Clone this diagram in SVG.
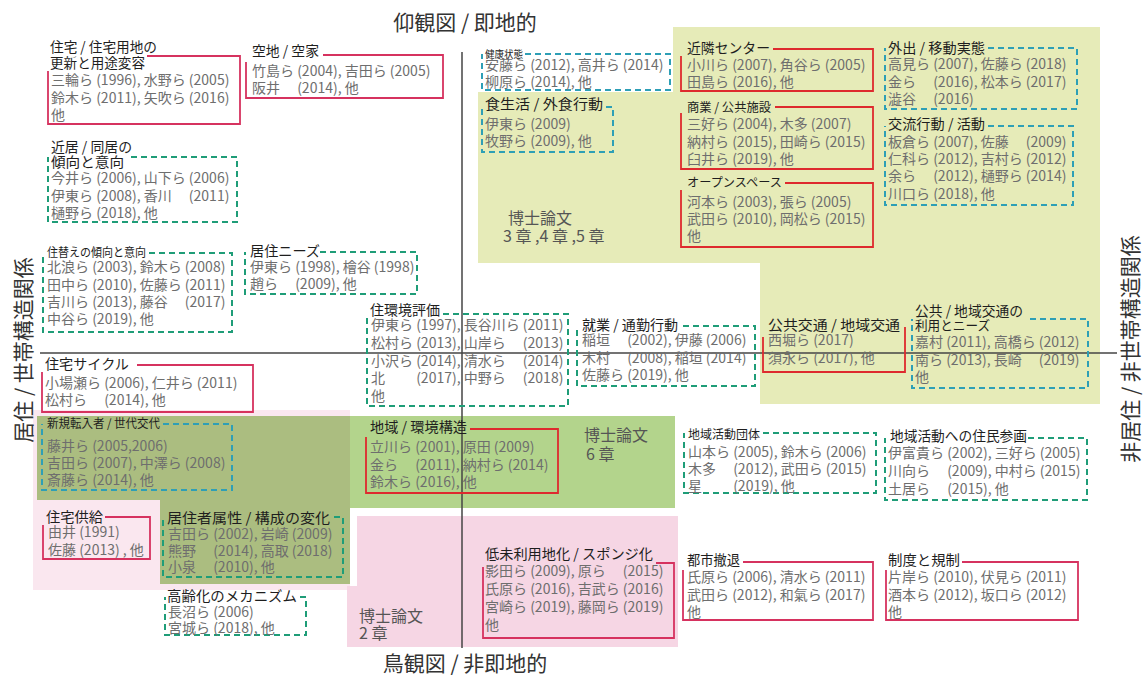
<svg xmlns="http://www.w3.org/2000/svg" width="1144" height="675" viewBox="0 0 1144 675">
<style>
text{font-family:"Noto Sans CJK JP","Noto Sans CJK SC",sans-serif}
.t{font-size:14px;fill:#1e1e1e}
.c{font-size:14px;fill:#6e6e6e}
.h{font-size:16px;fill:#555}
.ax{font-size:21px;fill:#333}
.r1{fill:none;stroke:#d6325f;stroke-width:1.8}
.r2{fill:none;stroke:#de2a2e;stroke-width:1.8}
.dg{fill:none;stroke:#1f9d78;stroke-width:2;stroke-dasharray:6 4}
.db{fill:none;stroke:#2e9fb6;stroke-width:2;stroke-dasharray:6 4}
</style>
<rect width="1144" height="675" fill="#ffffff"/>
<g id="backgrounds">
<path d="M478,92 H673 V27 H1100 V404 H760 V263 H478 Z" fill="#e6ebb8"/>
<rect x="33" y="410" width="317" height="180" fill="#fae7ef"/>
<path d="M37,416 H350 V584 H160 V500 H37 Z" fill="#abbd80"/>
<rect x="350" y="416" width="325" height="92" fill="#b3d48c"/>
<path d="M357,516 H678 V647 H347 V586 H357 Z" fill="#f6d6e4"/>
</g>
<g id="axes">
<line x1="462" y1="52" x2="462" y2="648" stroke="#444" stroke-width="1.5"/>
<line x1="40" y1="353" x2="1117" y2="353" stroke="#444" stroke-width="1.5"/>
<text class="ax" x="465" y="30" text-anchor="middle">仰観図 / 即地的</text>
<text class="ax" x="465" y="671" text-anchor="middle">鳥観図 / 非即地的</text>
<text class="ax" transform="translate(31,350) rotate(-90)" text-anchor="middle">居住 / 世帯構造関係</text>
<text class="ax" transform="translate(1138,349) rotate(-90)" text-anchor="middle">非居住 / 非世帯構造関係</text>
</g>
<g id="labels">
<text class="h" x="508" y="224">博士論文</text>
<text class="h" x="503" y="242">3 章 ,4 章 ,5 章</text>
<text class="h" x="584" y="441">博士論文</text>
<text class="h" x="586" y="460">6 章</text>
<text class="h" x="359" y="622">博士論文</text>
<text class="h" x="359" y="639">2 章</text>
</g>
<g id="connectors"></g>
<g id="nA">
<path class="r1" d="M147,56 H240 V124 H48 V71"/>
<text class="t" x="50" y="52" textLength="107" lengthAdjust="spacingAndGlyphs">住宅 / 住宅用地の</text>
<text class="t" x="50" y="68" style="font-size:13.6px" textLength="95" lengthAdjust="spacingAndGlyphs">更新と用途変容</text>
<text class="c" x="51" y="85">三輪ら (1996), 水野ら (2005)</text>
<text class="c" x="51" y="103">鈴木ら (2011), 矢吹ら (2016)</text>
<text class="c" x="51" y="120">他</text>
</g>
<g id="nB">
<path class="r1" d="M323,55 H443 V98 H246 V62"/>
<text class="t" x="252" y="56" textLength="67" lengthAdjust="spacingAndGlyphs">空地 / 空家</text>
<text class="c" x="252" y="76">竹島ら (2004), 吉田ら (2005)</text>
<text class="c" x="252" y="93">阪井　 (2014), 他</text>
</g>
<g id="nC">
<path class="dg" d="M131,157 H237 V222 H48 V157"/>
<text class="t" x="51" y="152" textLength="81" lengthAdjust="spacingAndGlyphs">近居 / 同居の</text>
<text class="t" x="51" y="167" textLength="73" lengthAdjust="spacingAndGlyphs">傾向と意向</text>
<text class="c" x="51" y="183">今井ら (2006), 山下ら (2006)</text>
<text class="c" x="51" y="201">伊東ら (2008), 香川　 (2011)</text>
<text class="c" x="51" y="218">樋野ら (2018), 他</text>
</g>
<g id="nD">
<path class="dg" d="M149,253 H232 V332 H43 V253"/>
<text class="t" x="47" y="257" style="font-size:12px" textLength="99" lengthAdjust="spacingAndGlyphs">住替えの傾向と意向</text>
<text class="c" x="47" y="272">北浪ら (2003), 鈴木ら (2008)</text>
<text class="c" x="47" y="290">田中ら (2010), 佐藤ら (2011)</text>
<text class="c" x="47" y="307">吉川ら (2013), 藤谷　 (2017)</text>
<text class="c" x="47" y="324">中谷ら (2019), 他</text>
</g>
<g id="nE">
<path class="dg" d="M320,252 H417 V294 H245 V252"/>
<text class="t" x="250" y="256" textLength="70" lengthAdjust="spacingAndGlyphs">居住ニーズ</text>
<text class="c" x="250" y="272">伊東ら (1998), 檜谷 (1998)</text>
<text class="c" x="250" y="289">趙ら　 (2009), 他</text>
</g>
<g id="nF">
<path class="r1" d="M137,365 H253 V412 H42 V372"/>
<text class="t" x="45" y="369" textLength="84" lengthAdjust="spacingAndGlyphs">住宅サイクル</text>
<text class="c" x="45" y="388">小場瀬ら (2006), 仁井ら (2011)</text>
<text class="c" x="45" y="405">松村ら　 (2014), 他</text>
</g>
<g id="nG">
<path class="db" d="M163,424 H232 V490 H42 V424"/>
<text class="t" x="47" y="428" style="font-size:12px" textLength="113" lengthAdjust="spacingAndGlyphs">新規転入者 / 世代交代</text>
<text class="c" x="47" y="451">藤井ら (2005,2006)</text>
<text class="c" x="47" y="468">吉田ら (2007), 中澤ら (2008)</text>
<text class="c" x="47" y="485">斎藤ら (2014), 他</text>
</g>
<g id="nH">
<path class="r1" d="M105,517 H150 V559 H43 V525"/>
<text class="t" x="46" y="522" textLength="57" lengthAdjust="spacingAndGlyphs">住宅供給</text>
<text class="c" x="48" y="537">由井 (1991)</text>
<text class="c" x="48" y="555">佐藤 (2013) , 他</text>
</g>
<g id="nI">
<path class="dg" d="M334,517 H343 V577 H163 V517"/>
<text class="t" x="167" y="523" textLength="163" lengthAdjust="spacingAndGlyphs">居住者属性 / 構成の変化</text>
<text class="c" x="168" y="539">吉田ら (2002), 岩崎 (2009)</text>
<text class="c" x="168" y="556">熊野　 (2014), 高取 (2018)</text>
<text class="c" x="168" y="572">小泉　 (2010), 他</text>
</g>
<g id="nJ">
<path class="dg" d="M300,597 H306 V635 H165 V597"/>
<text class="t" x="167" y="601" textLength="130" lengthAdjust="spacingAndGlyphs">高齢化のメカニズム</text>
<text class="c" x="168" y="617">長沼ら (2006)</text>
<text class="c" x="168" y="633">宮城ら (2018), 他</text>
</g>
<g id="nK">
<path class="db" d="M525,54 H670 V90 H482 V54"/>
<text class="t" x="485" y="58" style="font-size:10.5px" textLength="38" lengthAdjust="spacingAndGlyphs">健康状態</text>
<text class="c" x="485" y="70">安藤ら (2012), 高井ら (2014)</text>
<text class="c" x="485" y="87">柳原ら (2014), 他</text>
</g>
<g id="nL">
<path class="db" d="M606,107 H613 V152 H482 V107"/>
<text class="t" x="485" y="109" textLength="118" lengthAdjust="spacingAndGlyphs">食生活 / 外食行動</text>
<text class="c" x="485" y="129">伊東ら (2009)</text>
<text class="c" x="485" y="146">牧野ら (2009), 他</text>
</g>
<g id="nM">
<path class="r2" d="M773,49 H873 V91 H681 V56"/>
<text class="t" x="687" y="53" textLength="83" lengthAdjust="spacingAndGlyphs">近隣センター</text>
<text class="c" x="687" y="70">小川ら (2007), 角谷ら (2005)</text>
<text class="c" x="687" y="87">田島ら (2016), 他</text>
</g>
<g id="nN">
<path class="r2" d="M775,107 H873 V169 H681 V113"/>
<text class="t" x="687" y="112" style="font-size:12.5px" textLength="84" lengthAdjust="spacingAndGlyphs">商業 / 公共施設</text>
<text class="c" x="687" y="129">三好ら (2004), 木多 (2007)</text>
<text class="c" x="687" y="147">納村ら (2015), 田崎ら (2015)</text>
<text class="c" x="687" y="164">臼井ら (2019), 他</text>
</g>
<g id="nO">
<path class="r2" d="M785,183 H873 V247 H681 V190"/>
<text class="t" x="687" y="187" style="font-size:12px" textLength="95" lengthAdjust="spacingAndGlyphs">オープンスペース</text>
<text class="c" x="687" y="207">河本ら (2003), 張ら (2005)</text>
<text class="c" x="687" y="224">武田ら (2010), 岡松ら (2015)</text>
<text class="c" x="687" y="241">他</text>
</g>
<g id="nP">
<path class="db" d="M988,48 H1077 V109 H885 V48"/>
<text class="t" x="888" y="53" textLength="97" lengthAdjust="spacingAndGlyphs">外出 / 移動実態</text>
<text class="c" x="888" y="69">高見ら (2007), 佐藤ら (2018)</text>
<text class="c" x="888" y="87">金ら　 (2016), 松本ら (2017)</text>
<text class="c" x="888" y="104">澁谷　 (2016)</text>
</g>
<g id="nQ">
<path class="db" d="M988,126 H1073 V205 H885 V126"/>
<text class="t" x="888" y="129" textLength="97" lengthAdjust="spacingAndGlyphs">交流行動 / 活動</text>
<text class="c" x="888" y="147">板倉ら (2007), 佐藤　 (2009)</text>
<text class="c" x="888" y="164">仁科ら (2012), 吉村ら (2012)</text>
<text class="c" x="888" y="181">余ら　 (2012), 樋野ら (2014)</text>
<text class="c" x="888" y="199">川口ら (2018), 他</text>
</g>
<g id="nR">
<path class="dg" d="M443,314 H568 V406 H367 V314"/>
<text class="t" x="370" y="315" textLength="70" lengthAdjust="spacingAndGlyphs">住環境評価</text>
<text class="c" x="371" y="330">伊東ら (1997), 長谷川ら (2011)</text>
<text class="c" x="371" y="348">松村ら (2013), 山岸ら　 (2013)</text>
<text class="c" x="371" y="366">小沢ら (2014), 清水ら　 (2014)</text>
<text class="c" x="371" y="383">北　　 (2017), 中野ら　 (2018)</text>
<text class="c" x="371" y="401">他</text>
</g>
<g id="nS">
<path class="dg" d="M683,326 H755 V386 H577 V326"/>
<text class="t" x="582" y="330" textLength="96" lengthAdjust="spacingAndGlyphs">就業 / 通勤行動</text>
<text class="c" x="582" y="345">稲垣　 (2002), 伊藤 (2006)</text>
<text class="c" x="582" y="363">木村　 (2008), 稲垣 (2014)</text>
<text class="c" x="582" y="380">佐藤ら (2019), 他</text>
</g>
<g id="nT">
<path class="r2" d="M905,327 V372 H763 V337"/>
<text class="t" x="768" y="330" textLength="132" lengthAdjust="spacingAndGlyphs">公共交通 / 地域交通</text>
<text class="c" x="768" y="345">西堀ら (2017)</text>
<text class="c" x="768" y="363">須永ら (2017), 他</text>
</g>
<g id="nU">
<path class="db" d="M1030,319 H1088 V388 H912 V319"/>
<text class="t" x="915" y="316" textLength="108" lengthAdjust="spacingAndGlyphs">公共 / 地域交通の</text>
<text class="t" x="915" y="330" style="font-size:13px" textLength="75" lengthAdjust="spacingAndGlyphs">利用とニーズ</text>
<text class="c" x="915" y="347">嘉村 (2011), 高橋ら (2012)</text>
<text class="c" x="915" y="365">南ら (2013), 長崎　 (2019)</text>
<text class="c" x="915" y="382">他</text>
</g>
<g id="nV">
<path class="r2" d="M470,429 H558 V493 H366 V437"/>
<text class="t" x="370" y="432" textLength="97" lengthAdjust="spacingAndGlyphs">地域 / 環境構造</text>
<text class="c" x="370" y="452">立川ら (2001), 原田 (2009)</text>
<text class="c" x="370" y="470">金ら　 (2011), 納村ら (2014)</text>
<text class="c" x="370" y="487">鈴木ら (2016), 他</text>
</g>
<g id="nW">
<path class="dg" d="M763,433 H876 V493 H684 V433"/>
<text class="t" x="688" y="439" style="font-size:12px" textLength="72" lengthAdjust="spacingAndGlyphs">地域活動団体</text>
<text class="c" x="688" y="457">山本ら (2005), 鈴木ら (2006)</text>
<text class="c" x="688" y="474">木多　 (2012), 武田ら (2015)</text>
<text class="c" x="688" y="491">星　　 (2019), 他</text>
</g>
<g id="nX">
<path class="dg" d="M1028,438 H1087 V500 H885 V438"/>
<text class="t" x="890" y="441" textLength="137" lengthAdjust="spacingAndGlyphs">地域活動への住民参画</text>
<text class="c" x="888" y="458">伊富貴ら (2002), 三好ら (2005)</text>
<text class="c" x="888" y="476">川向ら　 (2009), 中村ら (2015)</text>
<text class="c" x="888" y="494">土居ら　 (2015), 他</text>
</g>
<g id="nY">
<path class="r1" d="M656,563 H674 V638 H483 V567"/>
<text class="t" x="485" y="559" textLength="168" lengthAdjust="spacingAndGlyphs">低未利用地化 / スポンジ化</text>
<text class="c" x="485" y="576">影田ら (2009), 原ら　 (2015)</text>
<text class="c" x="485" y="594">氏原ら (2016), 吉武ら (2016)</text>
<text class="c" x="485" y="612">宮崎ら (2019), 藤岡ら (2019)</text>
<text class="c" x="485" y="630">他</text>
</g>
<g id="nZ">
<path class="r1" d="M743,562 H873 V620 H683 V570"/>
<text class="t" x="687" y="565" style="font-size:13.5px" textLength="53" lengthAdjust="spacingAndGlyphs">都市撤退</text>
<text class="c" x="687" y="582">氏原ら (2006), 清水ら (2011)</text>
<text class="c" x="687" y="600">武田ら (2012), 和氣ら (2017)</text>
<text class="c" x="687" y="617">他</text>
</g>
<g id="nAA">
<path class="r1" d="M962,562 H1078 V620 H886 V570"/>
<text class="t" x="888" y="565" textLength="72" lengthAdjust="spacingAndGlyphs">制度と規制</text>
<text class="c" x="888" y="582">片岸ら (2010), 伏見ら (2011)</text>
<text class="c" x="888" y="600">酒本ら (2012), 坂口ら (2012)</text>
<text class="c" x="888" y="617">他</text>
</g>
</svg>
